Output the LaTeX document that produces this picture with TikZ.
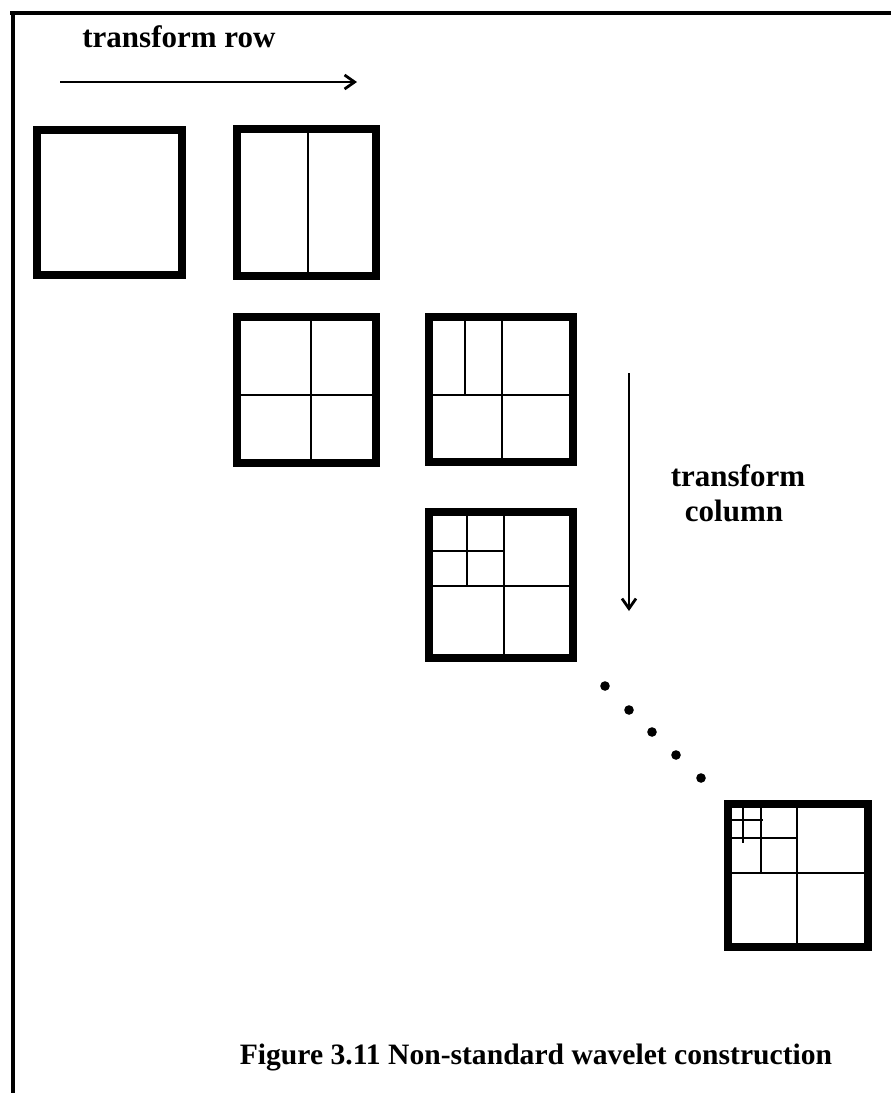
\documentclass[tikz,border=0pt]{standalone}
\usepackage{fontspec}
\setmainfont{Liberation Serif}
\usetikzlibrary{arrows.meta}
\begin{document}
\begin{tikzpicture}[x=0.5pt,y=-0.5pt,
  frameline/.style={line width=2pt,line cap=butt},
  outer/.style={line width=4pt,line join=miter},
  inner/.style={line width=1.25pt},
  flow/.style={line width=1pt,-{Straight Barb[length=5pt,width=7pt,line width=1.4pt]}},
  lbl/.style={font=\fontsize{15.5}{18}\selectfont\bfseries,inner sep=0pt},
  caplbl/.style={font=\fontsize{14.8}{18}\selectfont\bfseries,inner sep=0pt},
  dot/.style={circle,fill=black,inner sep=0pt,minimum size=4.8pt}]
\useasboundingbox (0,0) rectangle (891,1093);
% frame
\draw[frameline] (10,13) -- (891,13);
\draw[frameline] (13,11) -- (13,1093);
% top label and arrow
\node[lbl,anchor=base west] (trow) at (82,47) {transform row};
\coordinate (ra) at (60,82);
\coordinate (rb) at (357,82);
\draw[flow] (ra) -- (rb);
% box 1
\draw[outer] (37,130) rectangle (182,275);
% box 2
\draw[inner] (308,129) -- (308,276);
\draw[outer] (237,129) rectangle (376,276);
% box 3
\draw[inner] (237,395) -- (376,395);
\draw[inner] (311,317) -- (311,463);
\draw[outer] (237,317) rectangle (376,463);
% box 4
\draw[inner] (429,395) -- (573,395);
\draw[inner] (502,317) -- (502,462);
\draw[inner] (465,317) -- (465,395);
\draw[outer] (429,317) rectangle (573,462);
% box 5
\draw[inner] (429,586) -- (573,586);
\draw[inner] (504,512) -- (504,658);
\draw[inner] (429,551) -- (504,551);
\draw[inner] (467,512) -- (467,586);
\draw[outer] (429,512) rectangle (573,658);
% column arrow and label
\coordinate (ca) at (629,373);
\coordinate (cb) at (629,611);
\draw[flow] (ca) -- (cb);
\node[lbl,anchor=base] (tcol1) at (738,486) {transform};
\node[lbl,anchor=base] (tcol2) at (734,521) {column};
% dots
\node[dot] (d1) at (605,686) {};
\node[dot] (d2) at (629,710) {};
\node[dot] (d3) at (652,732) {};
\node[dot] (d4) at (676,755) {};
\node[dot] (d5) at (701,778) {};
% box 6
\draw[inner] (728,873) -- (868,873);
\draw[inner] (797,804) -- (797,947);
\draw[inner] (728,838) -- (797,838);
\draw[inner] (761,804) -- (761,873);
\draw[inner] (728,820) -- (763,820);
\draw[inner] (743,804) -- (743,843);
\draw[outer] (728,804) rectangle (868,947);
% caption
\node[caplbl,anchor=base] (cap) at (536,1064) {Figure 3.11 Non-standard wavelet construction};
\end{tikzpicture}
\end{document}
